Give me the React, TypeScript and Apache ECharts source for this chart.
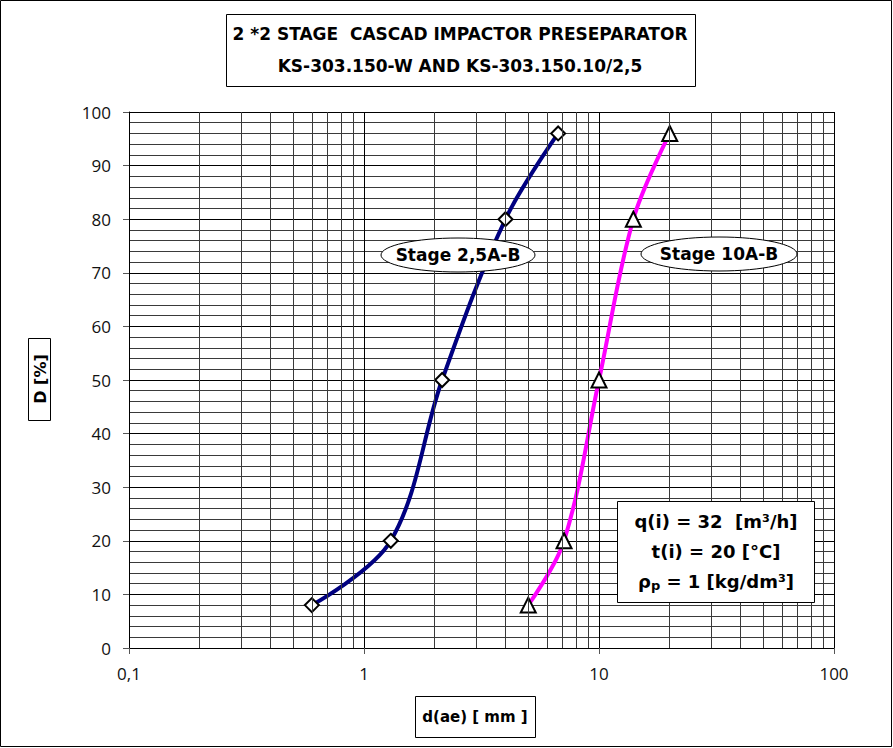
import React, { useEffect, useRef } from "react";
import * as echarts from "echarts";

const titleLines = ["2 *2 STAGE  CASCAD IMPACTOR PRESEPARATOR", "KS-303.150-W AND KS-303.150.10/2,5"];
const stage25Name = "Stage 2,5A-B";
const stage10Name = "Stage 10A-B";
const stage25X = [0.6, 1.3, 2.15, 4.0, 6.7];
const stage25Y = [8, 20, 50, 80, 96];
const stage10X = [5.0, 7.1, 10.0, 14.0, 20.0];
const stage10Y = [8, 20, 50, 80, 96];
const xMinorGrid = [0.2, 0.3, 0.4, 0.5, 0.6, 0.7, 0.8, 0.9, 2, 3, 4, 5, 6, 7, 8, 9, 20, 30, 40, 50, 60, 70, 80, 90];
const xAxisName = "d(ae) [ mm ]";
const yAxisName = "D [%]";
const infoLine1 = "q(i) = 32  [m³/h]";
const infoLine2 = "t(i) = 20 [°C]";
const infoLine3 = "{a|ρ}{s|p}{a| = 1 [kg/dm³]}";

const FONT = "'DejaVu Sans', Lato, sans-serif";
const GRID_COLOR = "#3a3a3a";
const Z = 100;

function boxText(x: number, y: number, text: string, size: number, extra: any = {}) {
  return {
    type: "text",
    x,
    y,
    z: Z + 1,
    ...extra,
    style: {
      text,
      fontFamily: FONT,
      fontWeight: "bold",
      fontSize: size,
      fill: "#000",
      align: "center",
      verticalAlign: "middle",
    },
  };
}

export default function App() {
  const ref = useRef<HTMLDivElement>(null);
  useEffect(() => {
    if (!ref.current) return;
    const chart = echarts.init(ref.current, null, { renderer: "svg" });
    const option: any = {
      animation: false,
      backgroundColor: "#fff",
      grid: { left: 129, right: 59, top: 112, bottom: 100, containLabel: false },
      xAxis: {
        type: "log",
        logBase: 10,
        min: 0.1,
        max: 100,
        axisLine: { show: true, lineStyle: { color: "#000", width: 1 } },
        axisTick: { show: true, length: 6, lineStyle: { color: "#555" } },
        axisLabel: {
          color: "#111",
          fontFamily: "'Open Sans', sans-serif",
          fontSize: 17,
          margin: 17,
          formatter: (v: number) => String(v).replace(".", ","),
        },
        splitLine: { show: true, lineStyle: { color: "#000", width: 1 } },
      },
      yAxis: {
        type: "value",
        min: 0,
        max: 100,
        interval: 10,
        axisLine: { show: true, lineStyle: { color: "#000", width: 1 } },
        axisTick: { show: true, length: 6, lineStyle: { color: "#555" } },
        axisLabel: { color: "#111", fontFamily: "'Open Sans', sans-serif", fontSize: 17, margin: 18 },
        splitLine: { show: true, lineStyle: { color: "#000", width: 1 } },
        minorTick: { show: false, splitNumber: 5 },
        minorSplitLine: { show: true, lineStyle: { color: GRID_COLOR, width: 1 } },
      },
      series: [
        {
          type: "line",
          name: "grid",
          z: 1,
          data: [],
          silent: true,
          markLine: {
            silent: true,
            symbol: "none",
            label: { show: false },
            lineStyle: { color: GRID_COLOR, type: "solid", width: 1 },
            data: xMinorGrid.map((v) => ({ xAxis: v })),
          },
        },
        {
          type: "line",
          name: stage25Name,
          z: 3,
          smooth: 0.35,
          data: stage25X.map((x, i) => [x, stage25Y[i]]),
          lineStyle: { color: "#000080", width: 4 },
          symbol: "diamond",
          symbolSize: 14,
          itemStyle: { color: "#fff", borderColor: "#000", borderWidth: 2 },
        },
        {
          type: "line",
          name: stage10Name,
          z: 3,
          smooth: 0.35,
          data: stage10X.map((x, i) => [x, stage10Y[i]]),
          lineStyle: { color: "#ff00ff", width: 4 },
          symbol: "triangle",
          symbolSize: 15,
          itemStyle: { color: "#fff", borderColor: "#000", borderWidth: 2 },
        },
      ],
      graphic: [
        {
          type: "rect",
          shape: { x: 0.5, y: 0.5, width: 891, height: 746 },
          style: { fill: "none", stroke: "#000", lineWidth: 1 },
          silent: true,
          z: 0,
        },
        {
          type: "rect",
          z: Z,
          shape: { x: 226.5, y: 14.5, width: 469, height: 72 },
          style: { fill: "#fff", stroke: "#000", lineWidth: 1 },
        },
        {
          type: "text",
          x: 460,
          y: 50,
          z: Z + 1,
          style: {
            text: titleLines.join("\n"),
            fontFamily: FONT,
            fontWeight: "bold",
            fontSize: 17,
            lineHeight: 32,
            fill: "#000",
            align: "center",
            verticalAlign: "middle",
          },
        },
        {
          type: "rect",
          z: Z,
          shape: { x: 28.5, y: 338.5, width: 22, height: 82 },
          style: { fill: "#fff", stroke: "#000", lineWidth: 1 },
        },
        boxText(40, 379, yAxisName, 16, { rotation: Math.PI / 2 }),
        {
          type: "rect",
          z: Z,
          shape: { x: 415.5, y: 696.5, width: 120, height: 41 },
          style: { fill: "#fff", stroke: "#000", lineWidth: 1 },
        },
        boxText(475, 717, xAxisName, 15),
        {
          type: "ellipse",
          z: Z,
          shape: { cx: 458, cy: 255, rx: 77, ry: 17 },
          style: { fill: "#fff", stroke: "#000", lineWidth: 1 },
        },
        boxText(458, 255, stage25Name, 17),
        {
          type: "ellipse",
          z: Z,
          shape: { cx: 719, cy: 254, rx: 78, ry: 17 },
          style: { fill: "#fff", stroke: "#000", lineWidth: 1 },
        },
        boxText(719, 254, stage10Name, 17),
        {
          type: "rect",
          z: Z,
          shape: { x: 617.5, y: 501.5, width: 197, height: 101 },
          style: { fill: "#fff", stroke: "#000", lineWidth: 1 },
        },
        boxText(716, 521, infoLine1, 18),
        boxText(716, 551, infoLine2, 18),
        {
          type: "text",
          x: 716,
          y: 581,
          z: Z + 1,
          style: {
            text: infoLine3,
            align: "center",
            verticalAlign: "middle",
            rich: {
              a: { fontFamily: FONT, fontWeight: "bold", fontSize: 18, color: "#000" },
              s: {
                fontFamily: FONT,
                fontWeight: "bold",
                fontSize: 13,
                color: "#000",
                verticalAlign: "bottom",
                padding: [8, 0, 0, 0],
              },
            },
          },
        },
      ],
    };
    chart.setOption(option);
    return () => chart.dispose();
  }, []);
  return (
    <div
      ref={ref}
      style={{ position: "absolute", left: 0, top: 0, width: 893, height: 748 }}
    />
  );
}
